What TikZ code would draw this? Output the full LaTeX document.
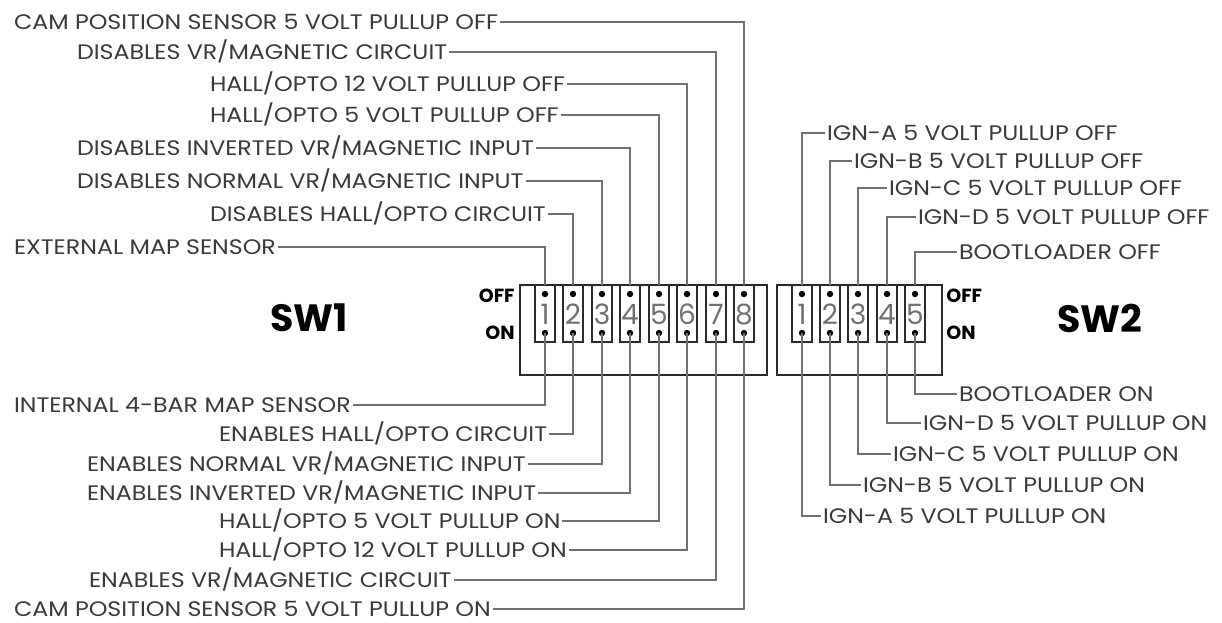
\documentclass[tikz,border=0pt]{standalone}
\usepackage{fontspec}
\setmainfont{Poppins}
\newfontfamily\lblfont{Poppins}[FakeStretch=1.13]
\definecolor{txt}{HTML}{3A3A3A}
\definecolor{wirec}{HTML}{707070}
\definecolor{boxc}{HTML}{2A2A2A}
\definecolor{digc}{HTML}{707070}
\begin{document}
\begin{tikzpicture}[x=0.5pt,y=-0.5pt,
  lbl/.style={font=\lblfont\fontsize{10.5}{11}\selectfont, text=txt, inner sep=0.8pt, text height=7.4pt, text depth=0pt},
  wire/.style={draw=wirec, line width=0.6pt},
  outerbox/.style={draw=boxc, line width=0.65pt},
  pinbox/.style={draw=boxc, line width=0.6pt},
  pindot/.style={fill=black, circle, inner sep=0pt, minimum size=3.2pt},
  digit/.style={font=\fontsize{14}{14}\selectfont, text=digc, inner sep=0pt},
  swlbl/.style={font=\bfseries\fontsize{19}{19}\selectfont, text=black, inner sep=0pt},
  onoff/.style={font=\bfseries\fontsize{9.5}{10}\selectfont, text=black, inner sep=0pt}
]
\useasboundingbox (0,0) rectangle (1222,622);

% ---------- switch bodies ----------
\draw[outerbox] (520,285) rectangle (767,375);
\draw[outerbox] (777,285) rectangle (942,375);

% SW1 pins
\foreach \i/\x in {1/545,2/573,3/602,4/630,5/659,6/687,7/716,8/744}{
  \draw[pinbox] (\x-10,285) rectangle (\x+10,342);
  \node[pindot] (a\i off) at (\x,294) {};
  \node[pindot] (a\i on) at (\x,333) {};
  \node[digit] (a\i d) at (\x,314) {\i};
  \coordinate (a\i t) at (\x,285);
}
% SW2 pins
\foreach \i/\x in {1/802,2/830,3/858,4/887,5/915}{
  \draw[pinbox] (\x-10,285) rectangle (\x+10,342);
  \node[pindot] (b\i off) at (\x,294) {};
  \node[pindot] (b\i on) at (\x,333) {};
  \node[digit] (b\i d) at (\x,314) {\i};
  \coordinate (b\i t) at (\x,285);
}

\node[swlbl] (sw1) at (309,318) {SW1};
\node[swlbl] (sw2) at (1100,318) {SW2};
\node[onoff, anchor=east] (off1) at (515,296) {OFF};
\node[onoff, anchor=east] (on1) at (515,333) {ON};
\node[onoff, anchor=west] (off2) at (946,296) {OFF};
\node[onoff, anchor=west] (on2) at (946,333) {ON};

% ---------- SW1 top labels ----------
\node[lbl, anchor=west] (t8) at (12,22) {CAM POSITION SENSOR 5 VOLT PULLUP OFF};
\node[lbl, anchor=west] (t7) at (75,52) {DISABLES VR/MAGNETIC CIRCUIT};
\node[lbl, anchor=west] (t6) at (208,84) {HALL/OPTO 12 VOLT PULLUP OFF};
\node[lbl, anchor=west] (t5) at (208,115) {HALL/OPTO 5 VOLT PULLUP OFF};
\node[lbl, anchor=west] (t4) at (75,148) {DISABLES INVERTED VR/MAGNETIC INPUT};
\node[lbl, anchor=west] (t3) at (75,181) {DISABLES NORMAL VR/MAGNETIC INPUT};
\node[lbl, anchor=west] (t2) at (208,214) {DISABLES HALL/OPTO CIRCUIT};
\node[lbl, anchor=west] (t1) at (12,247) {EXTERNAL MAP SENSOR};
\foreach \i in {1,...,8}{ \draw[wire] (t\i.east) -| (a\i t); }

% ---------- SW1 bottom labels ----------
\node[lbl, anchor=west] (u1) at (12,405) {INTERNAL 4-BAR MAP SENSOR};
\node[lbl, anchor=west] (u2) at (217,434) {ENABLES HALL/OPTO CIRCUIT};
\node[lbl, anchor=west] (u3) at (85,464) {ENABLES NORMAL VR/MAGNETIC INPUT};
\node[lbl, anchor=west] (u4) at (85,493) {ENABLES INVERTED VR/MAGNETIC INPUT};
\node[lbl, anchor=west] (u5) at (217,521) {HALL/OPTO 5 VOLT PULLUP ON};
\node[lbl, anchor=west] (u6) at (217,550) {HALL/OPTO 12 VOLT PULLUP ON};
\node[lbl, anchor=west] (u7) at (87,580) {ENABLES VR/MAGNETIC CIRCUIT};
\node[lbl, anchor=west] (u8) at (12,609) {CAM POSITION SENSOR 5 VOLT PULLUP ON};
\foreach \i in {1,...,8}{ \draw[wire] (u\i.east) -| (a\i on.center); }

% ---------- SW2 top labels ----------
\node[lbl, anchor=west] (r1) at (825,133) {IGN-A 5 VOLT PULLUP OFF};
\node[lbl, anchor=west] (r2) at (852,161) {IGN-B 5 VOLT PULLUP OFF};
\node[lbl, anchor=west] (r3) at (887,188) {IGN-C 5 VOLT PULLUP OFF};
\node[lbl, anchor=west] (r4) at (916,217) {IGN-D 5 VOLT PULLUP OFF};
\node[lbl, anchor=west] (r5) at (957,252) {BOOTLOADER OFF};
\foreach \i in {1,...,5}{ \draw[wire] (r\i.west) -| (b\i t); }

% ---------- SW2 bottom labels ----------
\node[lbl, anchor=west] (s5) at (957,394) {BOOTLOADER ON};
\node[lbl, anchor=west] (s4) at (921,423) {IGN-D 5 VOLT PULLUP ON};
\node[lbl, anchor=west] (s3) at (891,454) {IGN-C 5 VOLT PULLUP ON};
\node[lbl, anchor=west] (s2) at (861,485) {IGN-B 5 VOLT PULLUP ON};
\node[lbl, anchor=west] (s1) at (821,516) {IGN-A 5 VOLT PULLUP ON};
\foreach \i in {1,...,5}{ \draw[wire] (s\i.west) -| (b\i on.center); }

\end{tikzpicture}
\end{document}
